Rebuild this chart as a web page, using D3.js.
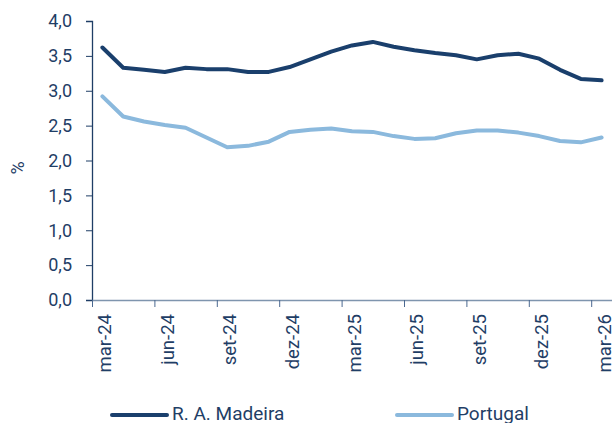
<!DOCTYPE html>
<html>
<head>
<meta charset="utf-8">
<style>
body { margin: 0; background: #fff; }
svg text { font-family: Roboto, "Noto Sans", sans-serif; fill: #1f3e66; }
</style>
</head>
<body>
<svg width="612" height="423"></svg>
<script src="https://cdn.jsdelivr.net/npm/d3@7"></script>
<script>

var months = ["mar-24","abr-24","mai-24","jun-24","jul-24","ago-24","set-24","out-24","nov-24","dez-24",
              "jan-25","fev-25","mar-25","abr-25","mai-25","jun-25","jul-25","ago-25","set-25","out-25",
              "nov-25","dez-25","jan-26","fev-26","mar-26"];

var madeira = [3.62, 3.33, 3.30, 3.27, 3.33, 3.31, 3.31, 3.27, 3.27, 3.34,
               3.45, 3.56, 3.65, 3.70, 3.63, 3.58, 3.54, 3.51, 3.45, 3.51,
               3.53, 3.46, 3.30, 3.17, 3.15];

var portugal = [2.92, 2.63, 2.56, 2.51, 2.47, 2.33, 2.19, 2.21, 2.27, 2.41,
                2.44, 2.46, 2.42, 2.41, 2.35, 2.31, 2.32, 2.39, 2.43, 2.43,
                2.40, 2.35, 2.28, 2.26, 2.33];

var yTicks = [0, 0.5, 1, 1.5, 2, 2.5, 3, 3.5, 4];

var series = [
  { name: "R. A. Madeira", values: madeira, color: "#1a3f6c" },
  { name: "Portugal", values: portugal, color: "#8bb9dd" }
];

var svg = d3.select("svg");

var x = d3.scaleLinear().domain([0, months.length]).range([92, 612]);
var y = d3.scaleLinear().domain([0, 4]).range([300, 21]);

var pt = d3.formatLocale({ decimal: ",", thousands: ".", grouping: [3], currency: ["", "€"] });
var fmt = pt.format(".1f");

// y axis
var yAxis = svg.append("g")
    .attr("transform", "translate(92,0)")
    .call(d3.axisLeft(y).tickValues(yTicks).tickFormat(fmt).tickSize(6).tickPadding(14));
yAxis.select(".domain").attr("stroke", "#1f3e66").attr("stroke-width", 1.3);
yAxis.selectAll(".tick line").attr("stroke", "#1f3e66");
yAxis.selectAll("text").style("font-size", "18px").attr("fill", "#1f3e66");

// x axis: ticks at category boundaries every 3 months
var xTickIdx = d3.range(0, months.length, 3);
var xAxis = svg.append("g")
    .attr("transform", "translate(0,300)")
    .call(d3.axisBottom(x).tickValues(xTickIdx).tickFormat("").tickSize(7).tickSizeOuter(0));
xAxis.select(".domain").attr("stroke", "#7f95ae").attr("stroke-width", 1.3);
xAxis.selectAll(".tick line").attr("stroke", "#4a6890");

svg.append("g").selectAll("text")
    .data(xTickIdx)
  .enter().append("text")
    .attr("transform", function(d) { return "translate(" + (x(d + 0.5) + 9) + ",314) rotate(-90)"; })
    .attr("text-anchor", "end")
    .style("font-size", "18.5px")
    .text(function(d) { return months[d]; });

// y label
svg.append("text")
    .attr("transform", "translate(24,168) rotate(-90)")
    .attr("text-anchor", "middle")
    .style("font-size", "18px")
    .text("%");

// lines
var line = d3.line()
    .x(function(d, i) { return x(i + 0.5); })
    .y(function(d) { return y(d); });

svg.selectAll(".series")
    .data(series)
  .enter().append("path")
    .attr("class", "series")
    .attr("fill", "none")
    .attr("stroke", function(d) { return d.color; })
    .attr("stroke-width", 4)
    .attr("stroke-linejoin", "round")
    .attr("stroke-linecap", "round")
    .attr("d", function(d) { return line(d.values); });

// legend
var legendX = [112, 397];
var legend = svg.selectAll(".legend")
    .data(series)
  .enter().append("g")
    .attr("class", "legend")
    .attr("transform", function(d, i) { return "translate(" + legendX[i] + ",415)"; });

legend.append("line")
    .attr("x1", 0).attr("x2", 55)
    .attr("stroke", function(d) { return d.color; })
    .attr("stroke-width", 4)
    .attr("stroke-linecap", "round");

legend.append("text")
    .attr("x", 60)
    .attr("y", 5)
    .style("font-size", "19px")
    .text(function(d) { return d.name; });

</script>
</body>
</html>
